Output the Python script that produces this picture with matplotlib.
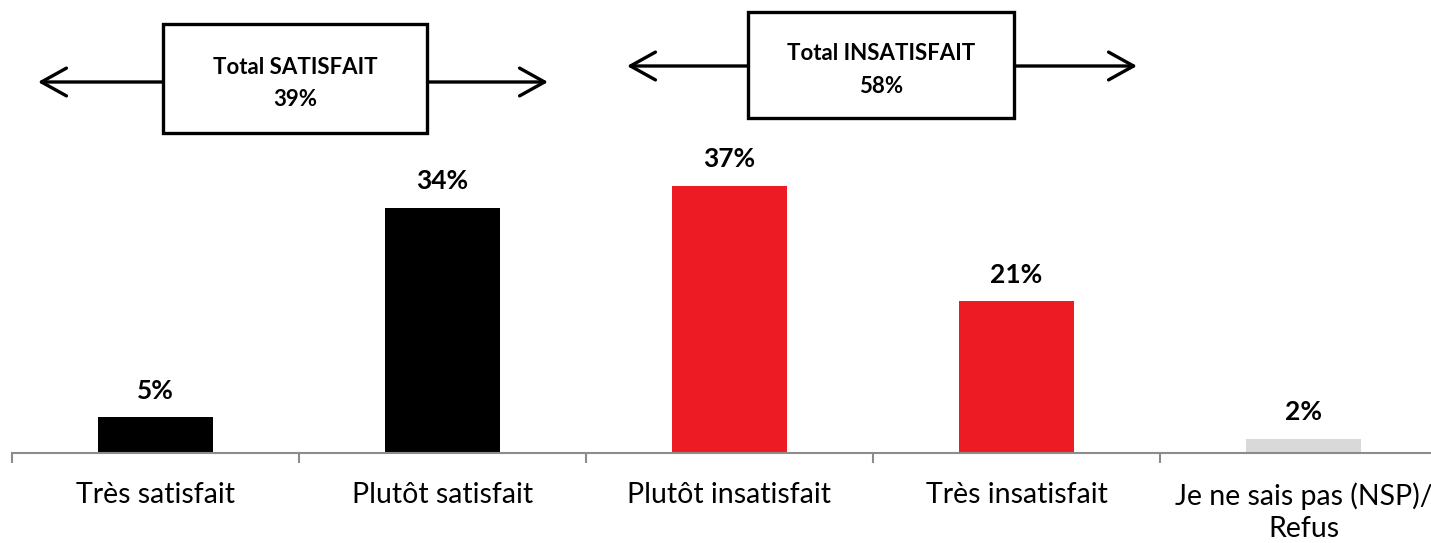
import matplotlib
matplotlib.use("Agg")
import matplotlib.pyplot as plt
from matplotlib.patches import Rectangle, FancyArrowPatch

categories = ["Très satisfait", "Plutôt satisfait", "Plutôt insatisfait",
              "Très insatisfait", "Je ne sais pas (NSP)/\nRefus"]
values = [5, 34, 37, 21, 2]
bar_colors = ["#000000", "#000000", "#ED1C24", "#ED1C24", "#D9D9D9"]
total_labels = ["Total SATISFAIT", "Total INSATISFAIT"]
total_values = [39, 58]

W, H = 1431, 543
plt.rcParams['font.family'] = ['Lato', 'DejaVu Sans']
fig = plt.figure(figsize=(W / 100, H / 100), dpi=100)

px_per_pct = 7.22
base_y = 453  # from top
ymax = 60
ax_left = 12 / W
ax_width = 1435 / W
ax_bottom = (H - base_y) / H
ax_height = ymax * px_per_pct / H
ax = fig.add_axes([ax_left, ax_bottom, ax_width, ax_height])

x = list(range(len(categories)))
ax.bar(x, values, width=0.4, color=bar_colors)
for xi, v in zip(x, values):
    ax.annotate(f"{v}%", (xi, v), xytext=(0, 19), textcoords="offset points",
                ha="center", va="center", fontsize=19, fontweight="bold")

ax.set_xlim(-0.5, len(categories) - 0.5)
ax.set_ylim(0, ymax)
for s in ["top", "right", "left"]:
    ax.spines[s].set_visible(False)
ax.spines["bottom"].set_color("#8C8C8C")
ax.spines["bottom"].set_linewidth(1.5)
ax.set_yticks([])
ax.set_xticks([i - 0.5 for i in range(len(categories) + 1)], minor=False)
ax.set_xticklabels([])
ax.tick_params(axis="x", which="major", length=7, width=1.5, color="#8C8C8C")
ax.set_xticks(x, minor=True)
ax.set_xticklabels(categories, minor=True, fontsize=20.5, linespacing=1.3)
ax.tick_params(axis="x", which="minor", length=0, pad=21)
for lbl in ax.get_xticklabels(minor=True):
    lbl.set_va("top")

# Total boxes with arrows (figure pixel coordinates, top-origin)
boxes = [
    dict(left=163, right=427, top=24, bottom=133, arrow_y=82, tip_l=38, tip_r=548),
    dict(left=748, right=1014, top=12, bottom=118, arrow_y=66, tip_l=627, tip_r=1137),
]

def fx(px):
    return px / W

def fy(py):
    return (H - py) / H

for b, lab, val in zip(boxes, total_labels, total_values):
    rect = Rectangle((fx(b["left"]), fy(b["bottom"])),
                     fx(b["right"]) - fx(b["left"]), fy(b["top"]) - fy(b["bottom"]),
                     transform=fig.transFigure, facecolor="white", edgecolor="black",
                     linewidth=2.4, zorder=5)
    fig.add_artist(rect)
    for start, tip in [(b["left"], b["tip_l"]), (b["right"], b["tip_r"])]:
        arr = FancyArrowPatch((fx(start), fy(b["arrow_y"])), (fx(tip), fy(b["arrow_y"])),
                              transform=fig.transFigure,
                              arrowstyle="->,head_length=0.9,head_width=0.5",
                              mutation_scale=20, linewidth=2.4, color="black",
                              shrinkA=0, shrinkB=0, zorder=4)
        fig.add_artist(arr)
    cx = (b["left"] + b["right"]) / 2
    cy = (b["top"] + b["bottom"]) / 2 + 5
    fig.text(fx(cx), fy(cy), f"{lab}\n{val}%", ha="center", va="center",
             fontsize=16, fontweight="bold", linespacing=1.65, zorder=6)

fig.savefig("out.png", dpi=100)
